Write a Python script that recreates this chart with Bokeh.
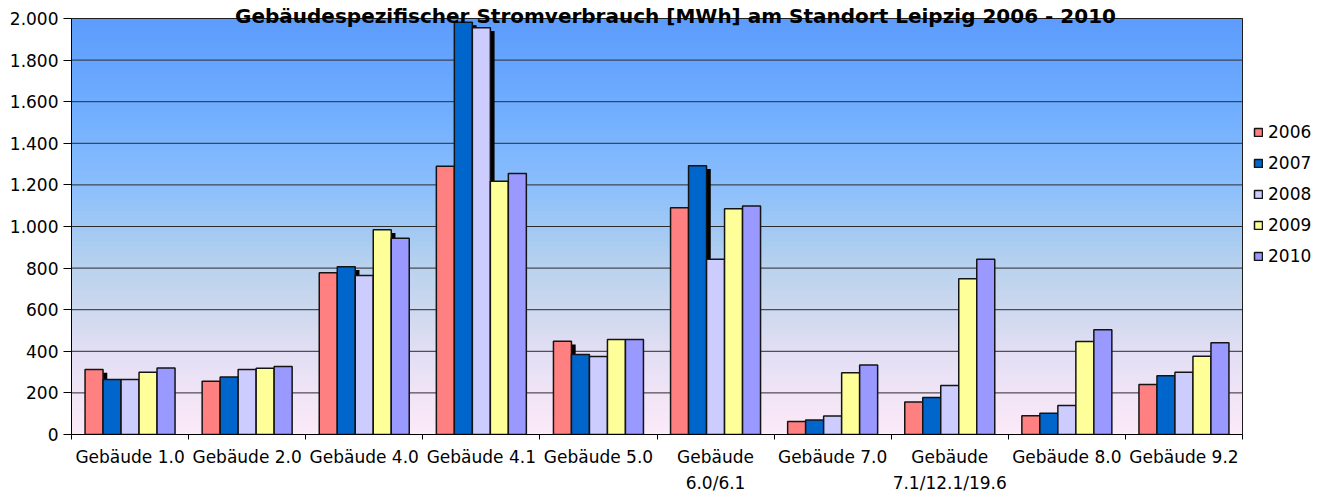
from bokeh.plotting import figure
from bokeh.models import Range1d, FixedTicker, Legend, LegendItem, Label
from bokeh.embed import file_html
from bokeh.resources import INLINE

# ---------------- data ----------------
categories = ["Gebäude 1.0", "Gebäude 2.0", "Gebäude 4.0", "Gebäude 4.1", "Gebäude 5.0",
              "Gebäude\n6.0/6.1", "Gebäude 7.0", "Gebäude\n7.1/12.1/19.6", "Gebäude 8.0", "Gebäude 9.2"]
years = ["2006", "2007", "2008", "2009", "2010"]
v2006 = [312, 256, 778, 1290, 448, 1090, 62, 156, 90, 240]
v2007 = [264, 277, 806, 1982, 385, 1292, 70, 178, 102, 283]
v2008 = [264, 312, 764, 1955, 375, 842, 89, 235, 140, 299]
v2009 = [299, 318, 984, 1218, 457, 1085, 297, 749, 447, 376]
v2010 = [320, 327, 943, 1255, 457, 1098, 334, 843, 504, 441]
y_ticks = [0, 200, 400, 600, 800, 1000, 1200, 1400, 1600, 1800, 2000]
y_tick_labels = ["0", "200", "400", "600", "800", "1.000", "1.200", "1.400", "1.600", "1.800", "2.000"]
title_text = "Gebäudespezifischer Stromverbrauch [MWh] am Standort Leipzig 2006 - 2010"

series = [v2006, v2007, v2008, v2009, v2010]
colors = ["#ff8080", "#0066cc", "#ccccff", "#ffff99", "#9999ff"]

FONT = "DejaVu Sans"
W, H = 1327, 495
FL, FR, FT, FB = 71, 1242, 18, 434          # plot-area box in canvas pixels
NCAT = len(categories)
YMAX = 2000
# frame covers the whole canvas to the right and top; ranges extended so the
# plot area (0..NCAT, 0..YMAX) lands on the box above
x_end = NCAT * (W - FL) / (FR - FL)
y_end = YMAX * FB / (FB - FT)
p = figure(width=W, height=H, output_backend="svg", toolbar_location=None,
           x_range=Range1d(0, x_end), y_range=Range1d(0, y_end),
           min_border_left=FL, min_border_right=0, min_border_top=0, min_border_bottom=H - FB)
p.background_fill_color = "white"
p.border_fill_color = "white"
p.outline_line_color = None

# background gradient (style only)
stops = [(0, (252, 234, 248)), (200, (240, 228, 246)), (400, (226, 222, 243)),
         (600, (205, 216, 238)), (800, (185, 210, 238)), (1000, (160, 200, 244)),
         (1200, (138, 190, 252)), (1600, (110, 172, 255)), (2000, (93, 156, 252))]
nb = 104
bl, bt, bc = [], [], []
for k in range(nb):
    y0 = YMAX * k / nb
    y1 = YMAX * (k + 1) / nb
    ym = (y0 + y1) / 2
    for s in range(len(stops) - 1):
        if stops[s][0] <= ym <= stops[s + 1][0]:
            t = (ym - stops[s][0]) / (stops[s + 1][0] - stops[s][0])
            c = tuple(int(round(stops[s][1][i] + t * (stops[s + 1][1][i] - stops[s][1][i]))) for i in range(3))
            break
    bl.append(y0)
    bt.append(min(y1 + 2, YMAX))
    bc.append("#%02x%02x%02x" % c)
p.quad(left=0, right=NCAT, bottom=bl, top=bt, fill_color=bc, line_color=None, level="image")

# horizontal gridlines limited to the plot area
p.xgrid.visible = False
p.ygrid.visible = False
p.segment(x0=[0] * len(y_ticks), x1=[NCAT] * len(y_ticks), y0=y_ticks, y1=y_ticks,
          line_color="#2c2c2c", line_width=1, level="underlay")

# axes
p.yaxis.bounds = (0, YMAX)
p.yaxis.ticker = FixedTicker(ticks=y_ticks, minor_ticks=[])
p.yaxis.major_label_overrides = {t: l for t, l in zip(y_ticks, y_tick_labels)}
p.yaxis.major_tick_out = 8
p.yaxis.major_tick_in = 0
p.yaxis.major_tick_line_color = "black"
p.yaxis.axis_line_color = "black"
p.yaxis.major_label_text_font = FONT
p.yaxis.major_label_text_font_size = "17px"
p.yaxis.major_label_text_color = "black"
p.yaxis.major_label_standoff = 5

centers = [i + 0.5 for i in range(NCAT)]
p.xaxis.bounds = (0, NCAT)
p.xaxis.ticker = FixedTicker(ticks=centers, minor_ticks=list(range(NCAT + 1)))
p.xaxis.major_label_overrides = {c: n for c, n in zip(centers, categories)}
p.xaxis.major_tick_out = 0
p.xaxis.major_tick_in = 0
p.xaxis.minor_tick_out = 5
p.xaxis.minor_tick_in = 0
p.xaxis.minor_tick_line_color = "black"
p.xaxis.axis_line_color = "black"
p.xaxis.major_label_text_font = FONT
p.xaxis.major_label_text_font_size = "17px"
p.xaxis.major_label_text_color = "black"
p.xaxis.major_label_text_line_height = 1.3
p.xaxis.major_label_standoff = 7

# plot-area border (top and right edges)
p.quad(left=[0], right=[NCAT], bottom=[0], top=[YMAX], fill_color=None,
       line_color="#1e1e1e", line_width=1, level="underlay")

# shadows (black offset where the next bar is lower)
w = 0.1537
sl, sr, sb, st = [], [], [], []
for j in range(len(series) - 1):
    for i in range(NCAT):
        a, b = series[j][i], series[j + 1][i]
        if a - 15 > b:
            xr = centers[i] + (j - 2) * w + w / 2
            sl.append(xr)
            sr.append(xr + 0.036)
            sb.append(b)
            st.append(a - 15)
p.quad(left=sl, right=sr, bottom=sb, top=st, fill_color="black", line_color=None)

items = []
for j, (vals, col, yr) in enumerate(zip(series, colors, years)):
    xs = [c + (j - 2) * w for c in centers]
    r = p.vbar(x=xs, top=vals, bottom=0, width=w, fill_color=col, line_color="#141414", line_width=1.5)
    items.append(LegendItem(label=yr, renderers=[r]))

legend = Legend(items=items, location=(1253 - FL, 168), orientation="vertical",
                glyph_width=10, glyph_height=10, label_height=20, spacing=11,
                label_standoff=5, padding=0, margin=0,
                label_text_font=FONT, label_text_font_size="17px", label_text_color="black",
                background_fill_alpha=0, border_line_alpha=0)
p.add_layout(legend)

title = Label(x=675 - FL, y=FB - 15, x_units="screen", y_units="screen", text=title_text,
              text_font=FONT, text_font_size="20px", text_font_style="bold",
              text_align="center", text_baseline="alphabetic", text_color="black")
p.add_layout(title)

open("out.html", "w").write(file_html(p, INLINE))
